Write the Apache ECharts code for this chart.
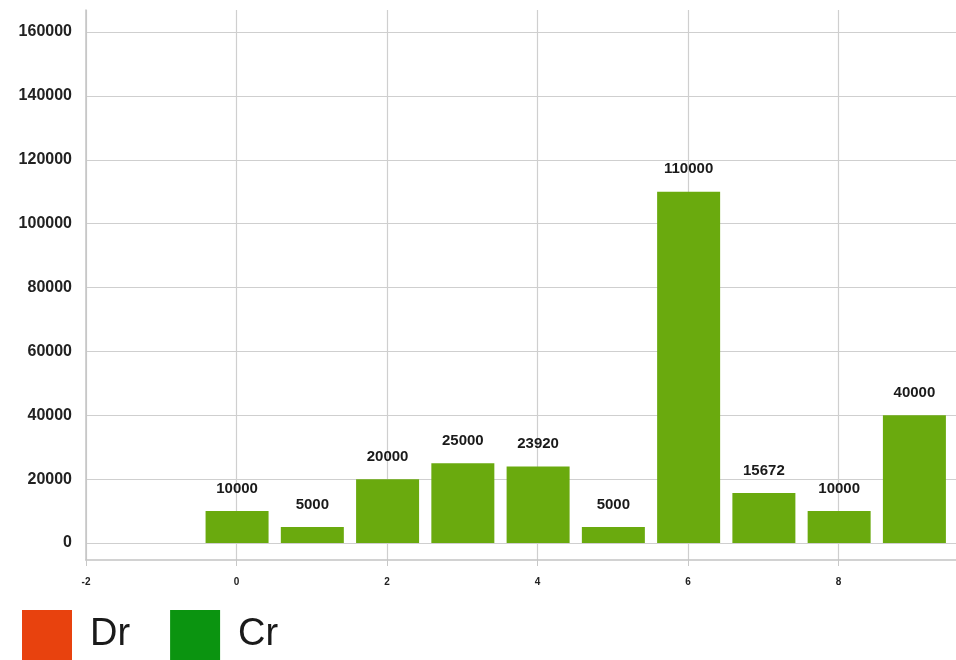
<!DOCTYPE html>
<html>
<head>
<meta charset="utf-8">
<script src="https://cdn.jsdelivr.net/npm/echarts@6/dist/echarts.min.js"></script>
<style>
html,body{margin:0;padding:0;background:#fff;}
#chart{width:956px;height:660px;}
</style>
</head>
<body>
<div id="chart"></div>
<script>
var xPositions = [0, 1, 2, 3, 4, 5, 6, 7, 8, 9];
var crValues = [10000, 5000, 20000, 25000, 23920, 5000, 110000, 15672, 10000, 40000];
var yTicks = [0, 20000, 40000, 60000, 80000, 100000, 120000, 140000, 160000];
var xTicks = [-2, 0, 2, 4, 6, 8];
var legendNames = ['Dr', 'Cr'];

var chart = echarts.init(document.getElementById('chart'));
var barData = xPositions.map(function (x, i) { return [x, crValues[i]]; });

chart.setOption({
  animation: false,
  backgroundColor: '#ffffff',
  textStyle: { fontFamily: 'Liberation Sans, Arial, sans-serif' },
  grid: { left: 86, right: 0, top: 10, bottom: 100, containLabel: false },
  legend: {
    left: 22, top: 610, padding: 0,
    itemWidth: 50, itemHeight: 50, itemGap: 40,
    icon: 'rect',
    textStyle: { fontSize: 38, color: '#1a1a1a', padding: [0, 0, 0, 13] },
    data: [
      { name: legendNames[0], itemStyle: { color: '#e8420e' } },
      { name: legendNames[1], itemStyle: { color: '#0b9410' } }
    ]
  },
  xAxis: {
    type: 'value', min: -2, max: 9.56,
    axisLine: { show: true, onZero: false, lineStyle: { color: '#c4c4c4', width: 1.5 } },
    axisTick: { show: true, length: 6, lineStyle: { color: '#c8c8c8' }, customValues: xTicks },
    axisLabel: { customValues: xTicks, fontSize: 10, fontWeight: 'bold', color: '#222', margin: 17,
      formatter: function (v) { return String(v); } },
    splitLine: { show: true, lineStyle: { color: '#cfcfcf', width: 1.2 } }
  },
  yAxis: {
    type: 'value', min: -5320, max: 166900,
    axisLine: { show: true, onZero: false, lineStyle: { color: '#c4c4c4', width: 1.5 } },
    axisTick: { show: false, customValues: yTicks },
    axisLabel: { customValues: yTicks, fontSize: 16, fontWeight: 'bold', color: '#222', margin: 14,
      formatter: function (v) { return String(v); } },
    splitLine: { show: true, lineStyle: { color: '#cfcfcf', width: 1.2 } }
  },
  series: [
    { name: legendNames[0], type: 'bar', data: [], itemStyle: { color: '#e8420e' } },
    {
      name: legendNames[1], type: 'bar', data: barData, barWidth: 63,
      itemStyle: { color: '#6aaa0e' },
      label: { show: true, position: 'top', distance: 15, fontSize: 15, fontWeight: 'bold', color: '#1a1a1a' }
    }
  ]
});
</script>
</body>
</html>
